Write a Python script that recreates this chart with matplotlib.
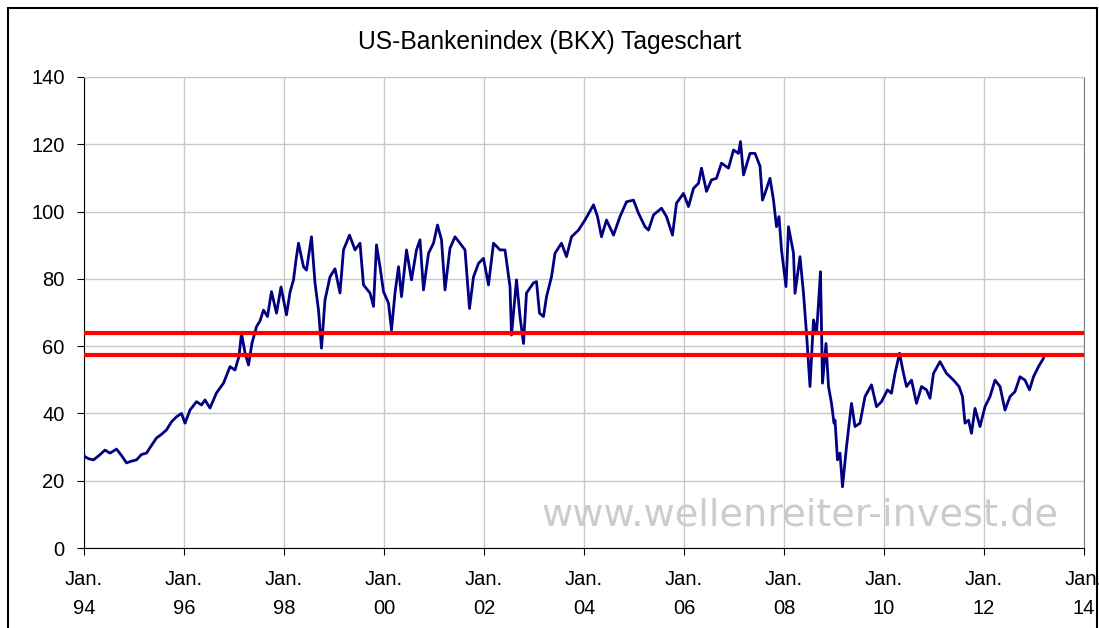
import matplotlib
matplotlib.use("Agg")
import matplotlib.pyplot as plt
import numpy as np

# BKX readings (decimal year, index value) estimated from the reference chart
years = [
    1994.00, 1994.02, 1994.10, 1994.19, 1994.30, 1994.42, 1994.52, 1994.65, 1994.75, 1994.85,
    1994.95, 1995.05, 1995.15, 1995.25, 1995.35, 1995.45, 1995.55, 1995.65, 1995.75, 1995.85,
    1995.95, 1996.02, 1996.12, 1996.25, 1996.35, 1996.42, 1996.52, 1996.65, 1996.79, 1996.92,
    1997.02, 1997.10, 1997.15, 1997.22, 1997.29, 1997.36, 1997.45, 1997.52, 1997.59, 1997.67,
    1997.75, 1997.85, 1997.94, 1998.05, 1998.12, 1998.19, 1998.24, 1998.29, 1998.39, 1998.45,
    1998.55, 1998.62, 1998.69, 1998.75, 1998.82, 1998.92, 1999.02, 1999.12, 1999.19, 1999.31,
    1999.42, 1999.52, 1999.59, 1999.72, 1999.79, 1999.85, 1999.92, 1999.99, 2000.09, 2000.15,
    2000.22, 2000.29, 2000.35, 2000.45, 2000.55, 2000.65, 2000.72, 2000.79, 2000.89, 2000.99,
    2001.07, 2001.15, 2001.22, 2001.32, 2001.42, 2001.52, 2001.62, 2001.71, 2001.79, 2001.89,
    2001.99, 2002.09, 2002.19, 2002.32, 2002.42, 2002.52, 2002.55, 2002.65, 2002.72, 2002.79,
    2002.85, 2002.99, 2003.05, 2003.11, 2003.19, 2003.25, 2003.35, 2003.42, 2003.55, 2003.65,
    2003.75, 2003.89, 2004.02, 2004.19, 2004.27, 2004.35, 2004.45, 2004.59, 2004.72, 2004.85,
    2004.99, 2005.09, 2005.22, 2005.29, 2005.39, 2005.55, 2005.65, 2005.77, 2005.85, 2005.99,
    2006.09, 2006.19, 2006.29, 2006.35, 2006.45, 2006.55, 2006.65, 2006.75, 2006.89, 2006.99,
    2007.09, 2007.13, 2007.19, 2007.32, 2007.42, 2007.52, 2007.57, 2007.62, 2007.72, 2007.79,
    2007.85, 2007.90, 2007.95, 2008.04, 2008.09, 2008.19, 2008.22, 2008.32, 2008.39, 2008.45,
    2008.52, 2008.59, 2008.65, 2008.69, 2008.73, 2008.77, 2008.84, 2008.89, 2008.95, 2009.00,
    2009.02, 2009.07, 2009.12, 2009.17, 2009.25, 2009.35, 2009.42, 2009.52, 2009.62, 2009.75,
    2009.85, 2009.95, 2010.07, 2010.15, 2010.22, 2010.31, 2010.39, 2010.45, 2010.55, 2010.65,
    2010.75, 2010.85, 2010.92, 2010.99, 2011.12, 2011.25, 2011.39, 2011.50, 2011.57, 2011.62,
    2011.69, 2011.75, 2011.82, 2011.92, 2012.02, 2012.12, 2012.22, 2012.32, 2012.42, 2012.52,
    2012.62, 2012.72, 2012.82, 2012.91, 2012.99, 2013.09, 2013.19,
]
bkx = [
    27.5, 27.1, 26.5, 26.2, 27.5, 29.1, 28.2, 29.4, 27.5, 25.3,
    25.8, 26.2, 27.8, 28.2, 30.5, 32.7, 33.8, 35.1, 37.5, 39.0,
    40.0, 37.1, 41.0, 43.5, 42.5, 44.0, 41.6, 46.1, 49.0, 53.9,
    52.9, 57.0, 63.9, 58.0, 54.4, 60.9, 65.8, 67.5, 70.7, 68.8,
    76.2, 69.8, 77.6, 69.3, 76.0, 79.7, 85.6, 90.6, 83.6, 82.6,
    92.5, 78.8, 70.7, 59.4, 73.7, 80.6, 83.0, 75.8, 88.6, 93.0,
    88.6, 90.6, 78.2, 75.8, 71.8, 90.1, 83.6, 76.2, 72.8, 64.8,
    75.8, 83.6, 74.7, 88.6, 79.7, 88.6, 91.6, 76.7, 87.6, 90.6,
    96.0, 91.6, 76.7, 89.1, 92.5, 90.6, 88.6, 71.2, 80.6, 84.6,
    86.1, 78.2, 90.6, 88.6, 88.6, 77.7, 63.3, 79.7, 68.8, 60.8,
    75.8, 78.8, 79.2, 69.8, 68.8, 74.7, 80.6, 87.6, 90.6, 86.6,
    92.5, 94.5, 97.5, 102.0, 98.5, 92.5, 97.5, 93.0, 98.5, 102.9,
    103.4, 99.5, 95.5, 94.5, 99.0, 101.0, 98.5, 93.0, 102.5, 105.4,
    101.5, 106.9, 108.4, 112.9, 106.0, 109.4, 109.9, 114.4, 112.9, 118.3,
    117.3, 120.8, 110.9, 117.3, 117.3, 113.5, 103.4, 105.4, 109.9, 103.4,
    95.5, 98.5, 88.6, 77.7, 95.5, 87.6, 75.7, 86.6, 75.7, 63.8,
    48.0, 67.8, 63.8, 72.7, 82.1, 49.0, 60.8, 48.0, 43.0, 37.1,
    38.0, 26.2, 28.2, 18.2, 30.1, 43.0, 36.1, 37.1, 45.0, 48.5,
    42.0, 43.5, 47.0, 46.0, 51.9, 57.9, 51.9, 48.0, 49.9, 43.0,
    48.0, 47.0, 44.5, 51.9, 55.4, 51.9, 49.9, 48.0, 45.0, 37.1,
    38.0, 34.1, 41.5, 36.1, 42.0, 45.0, 49.9, 48.0, 41.0, 45.0,
    46.5, 50.9, 49.9, 47.0, 50.9, 53.9, 56.4,
]
levels = [64, 57.5]
tick_years = list(range(1994, 2015, 2))
tick_labels = ["Jan.\n%02d" % (y % 100) for y in tick_years]

plt.rcParams["font.family"] = ["Liberation Sans", "DejaVu Sans"]

fig = plt.figure(figsize=(10.99, 6.28), dpi=100)
ax = fig.add_axes([84 / 1099, 1 - 548 / 628, 1000 / 1099, 471 / 628])

ax.plot(years, bkx, color="#000080", lw=2, zorder=3)
for lv in levels:
    ax.axhline(lv, color="#ff0000", lw=3, zorder=4)

ax.set_xlim(1994, 2014)
ax.set_ylim(0, 140)
ax.set_yticks(np.arange(0, 141, 20))
ax.set_xticks(tick_years)
ax.set_xticklabels(tick_labels, linespacing=1.65)
ax.tick_params(axis="both", labelsize=14.5, direction="out", length=5, color="black")
ax.tick_params(axis="x", pad=11)
ax.tick_params(axis="y", pad=9)

ax.grid(True, color="#c8c8c8", lw=1)
ax.set_axisbelow(True)
ax.spines["top"].set_color("#c8c8c8")
ax.spines["right"].set_color("#808080")
ax.spines["left"].set_color("black")
ax.spines["bottom"].set_color("black")

ax.text(0.716, 0.068, "www.wellenreiter-invest.de", transform=ax.transAxes,
        ha="center", va="center", fontsize=27.5, color="#cccccc",
        family="DejaVu Sans", zorder=0.1)

fig.text(0.5, 1 - 42 / 628, "US-Bankenindex (BKX) Tageschart", ha="center",
         va="center", fontsize=17.7)

# outer chart frame
fig.patches.append(plt.Rectangle((8 / 1099, -0.05), 1089 / 1099, 1.05 - 8 / 628,
                                 transform=fig.transFigure, fill=False,
                                 edgecolor="black", lw=1.5))

fig.savefig("out.png", dpi=100)
